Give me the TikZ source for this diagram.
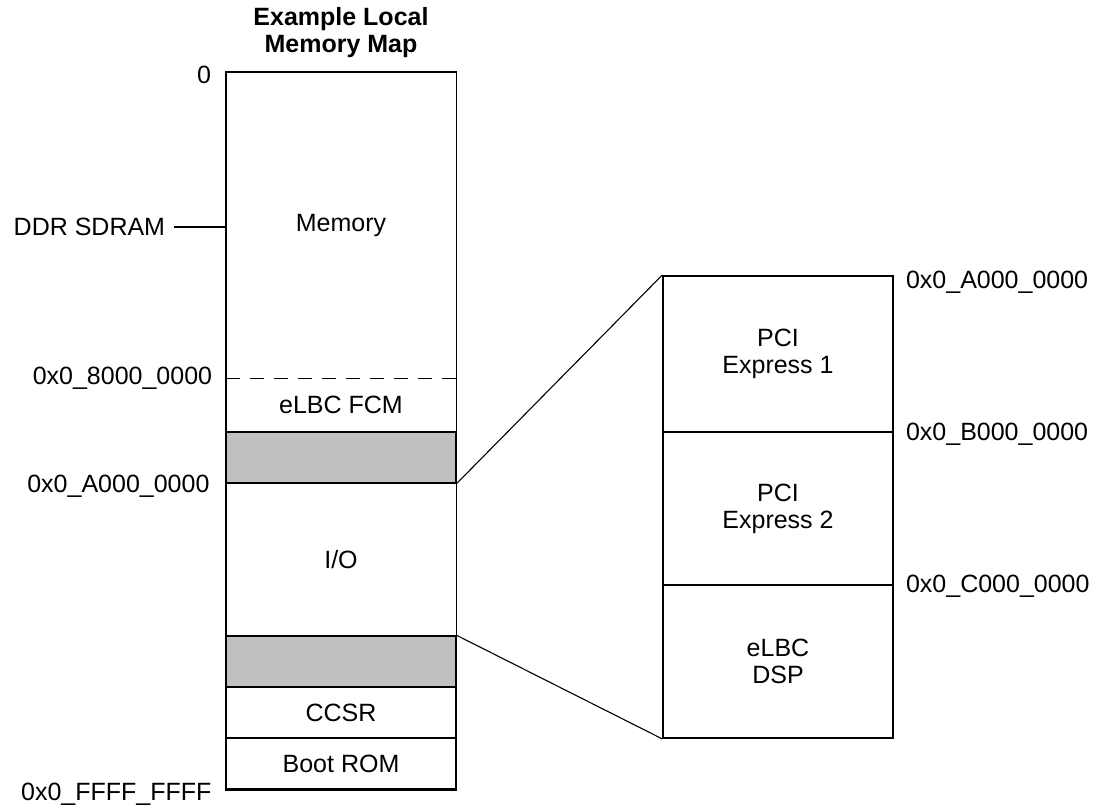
\documentclass[tikz,border=0pt]{standalone}
\usepackage{fontspec}
\setmainfont{Liberation Sans}
\usepackage{tikz}
\usetikzlibrary{positioning}
\definecolor{holegray}{RGB}{192,192,192}

\begin{document}
\begin{tikzpicture}[
  x=1pt, y=-1pt,
  font=\fontsize{25}{27}\selectfont,
  region/.style={rectangle, minimum width=229pt, inner sep=0pt, align=center},
  block/.style={region, draw, line width=1.7pt},
  hole/.style={block, fill=holegray},
  addr/.style={inner sep=0pt},
  link/.style={line width=1.1pt},
]
  \useasboundingbox (0,0) rectangle (1099,806);

  % local memory map
  \node[region, minimum height=306pt] (mem)  at (341,225)   {Memory};
  \node[region, minimum height=54pt]  (fcm)  at (341,405)   {eLBC FCM};
  \node[hole,   minimum height=51pt]  (hole1) at (341,457.5) {};
  \node[region, minimum height=153pt] (io)   at (341,559.5) {I/O};
  \node[hole,   minimum height=51pt]  (hole2) at (341,661.5) {};
  \node[block,  minimum height=51pt]  (ccsr) at (341,712.5) {CCSR};
  \node[block,  minimum height=51pt]  (boot) at (341,763.5) {Boot ROM};
  \draw[line width=1.7pt] (mem.north west) rectangle (boot.south east);
  \draw[line width=1.3pt, dash pattern=on 14pt off 10pt] (mem.south west) -- (mem.south east);

  \node[font=\fontsize{25}{27}\selectfont\bfseries, align=center, inner sep=0pt,
        above=14pt of mem.north] (title) {Example Local\\Memory Map};

  % left addresses
  \node[addr, left=15pt of mem.north west, yshift=-3pt] (a0) {0};
  \node[addr, left=61pt of mem.west, yshift=-2pt] (ddr) {DDR SDRAM};
  \draw[line width=1.3pt] ([xshift=9pt]ddr.east) -- (ddr.east -| mem.west);
  \node[addr, left=14pt of mem.south west] (a8) {0x0\_8000\_0000};
  \node[addr, left=16pt of hole1.south west, yshift=-2pt] (aA) {0x0\_A000\_0000};
  \node[addr, left=14pt of boot.south west, yshift=-4pt] (aF) {0x0\_FFFF\_FFFF};

  % I/O detail
  \node[block, minimum width=230pt, minimum height=156pt] (pcie1) at (778,354)   {PCI\\Express 1};
  \node[block, minimum width=230pt, minimum height=153pt] (pcie2) at (778,508.5) {PCI\\Express 2};
  \node[block, minimum width=230pt, minimum height=153pt] (dsp)   at (778,661.5) {eLBC\\DSP};

  \node[addr, right=12pt of pcie1.north east, yshift=-7pt] (rA) {0x0\_A000\_0000};
  \node[addr, right=12pt of pcie1.south east, yshift=-1pt] (rB) {0x0\_B000\_0000};
  \node[addr, right=12pt of pcie2.south east] (rC) {0x0\_C000\_0000};

  \draw[link] (hole1.south east) -- (pcie1.north west);
  \draw[link] (hole2.north east) -- (dsp.south west);
\end{tikzpicture}
\end{document}
